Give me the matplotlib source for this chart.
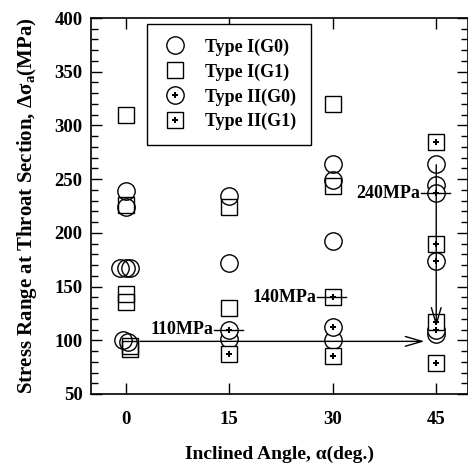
import numpy as np
import matplotlib
matplotlib.use("Agg")
import matplotlib.pyplot as plt
from matplotlib.legend_handler import HandlerTuple

plt.rcParams['font.family'] = ['Liberation Serif', 'DejaVu Serif']
plt.rcParams['font.weight'] = 'bold'
plt.rcParams['mathtext.fontset'] = 'custom'
plt.rcParams['mathtext.rm'] = 'Liberation Serif:bold'
plt.rcParams['mathtext.it'] = 'Liberation Serif:bold'

# Type I(G0): open circles
t1g0_x = [0, 0, -0.8, 0, 0.7, -0.3, 0.3, 15, 15, 15, 30, 30, 30, 30, 45, 45, 45]
t1g0_y = [239, 224, 167, 167, 167, 100, 98, 234, 172, 101, 264, 249, 192, 100, 264, 245, 106]

# Type I(G1): open squares
t1g1_x = [0, 0, 0, 0, 0.6, 0.6, 15, 15, 30, 30]
t1g1_y = [310, 226, 143, 136, 95, 92, 224, 130, 320, 244]

# Type II(G0): circle with dot
t2g0_x = [15, 30, 45, 45, 45]
t2g0_y = [110, 112, 237, 174, 110]

# Type II(G1): square with plus
t2g1_x = [15, 30, 30, 45, 45, 45, 45]
t2g1_y = [87, 140, 85, 285, 190, 117, 79]

# level marks
lev_x = [15, 30, 45]
lev_y = [110, 140, 237]
lev_txt = ['110MPa', '140MPa', '240MPa']

xticks = [0, 15, 30, 45]

fig = plt.figure(figsize=(4.68, 4.67), dpi=100)
ax = fig.add_axes([91/468, 1-394/467, 377/468, 376/467])

ms_c = 12.5
ms_s = 11
lw = 1.0

ax.plot(t1g0_x, t1g0_y, 'o', ms=ms_c, mfc='none', mec='k', mew=lw, ls='none')
ax.plot(t1g1_x, t1g1_y, 's', ms=ms_s, mfc='none', mec='k', mew=lw, ls='none')
ax.plot(t2g0_x, t2g0_y, 'o', ms=ms_c, mfc='white', mec='k', mew=lw, ls='none', zorder=3)
ax.plot(t2g0_x, t2g0_y, 'P', ms=5, mfc='k', mec='k', mew=0, ls='none', zorder=4)
ax.plot(t2g1_x, t2g1_y, 's', ms=ms_s, mfc='white', mec='k', mew=lw, ls='none', zorder=3)
ax.plot(t2g1_x, t2g1_y, 'P', ms=5, mfc='k', mec='k', mew=0, ls='none', zorder=4)

# level marks with labels
for x, y, t in zip(lev_x, lev_y, lev_txt):
    ax.plot([x - 2.2, x + 2.0], [y, y], color='k', lw=1.0, zorder=5)
    ax.text(x - 2.3, y, t, ha='right', va='center', fontsize=13, fontweight='bold')

# arrows
ax.annotate('', xy=(43.7, 99), xytext=(1.7, 99),
            arrowprops=dict(arrowstyle='->,head_length=1.2,head_width=0.35', color='k', lw=1.0))
ax.annotate('', xy=(45, 110), xytext=(45, 266),
            arrowprops=dict(arrowstyle='->,head_length=1.2,head_width=0.35', color='k', lw=1.0))

ax.set_xlim(-5, 49.6)
ax.set_ylim(50, 400)
ax.set_xticks(xticks)
ax.set_yticks(np.arange(50, 401, 50))
ax.set_yticks(np.arange(50, 401, 10), minor=True)
ax.tick_params(axis='both', which='both', direction='in', top=True, right=True, labelsize=13.5)
ax.tick_params(axis='y', which='major', length=8, width=1, pad=6)
ax.tick_params(axis='y', which='minor', length=5, width=1)
ax.tick_params(axis='x', which='major', length=8, width=1, pad=12)
for lab in ax.get_xticklabels() + ax.get_yticklabels():
    lab.set_fontweight('bold')
for s in ax.spines.values():
    s.set_linewidth(1.2)

ax.set_xlabel(r'Inclined Angle, α(deg.)', fontsize=14, fontweight='bold', labelpad=13)
ax.set_ylabel(r'Stress Range at Throat Section, Δσ$_\mathrm{a}$(MPa)', fontsize=15, fontweight='bold', labelpad=11)

# legend
h1, = ax.plot([], [], 'o', ms=ms_c, mfc='none', mec='k', mew=lw)
h2, = ax.plot([], [], 's', ms=ms_s, mfc='none', mec='k', mew=lw)
h3a, = ax.plot([], [], 'o', ms=ms_c, mfc='white', mec='k', mew=lw)
h3b, = ax.plot([], [], 'P', ms=5, mfc='k', mec='k', mew=0)
h4a, = ax.plot([], [], 's', ms=ms_s, mfc='white', mec='k', mew=lw)
h4b, = ax.plot([], [], 'P', ms=5, mfc='k', mec='k', mew=0)
leg = ax.legend([h1, h2, (h3a, h3b), (h4a, h4b)],
                ['Type I(G0)', 'Type I(G1)', 'Type II(G0)', 'Type II(G1)'],
                handler_map={tuple: HandlerTuple(ndivide=1, pad=0)},
                loc='upper left', bbox_to_anchor=(0.149, 0.984), fontsize=13,
                frameon=True, fancybox=False, edgecolor='k', framealpha=1,
                borderpad=0.8, labelspacing=0.42, handlelength=1.5, handletextpad=0.9,
                borderaxespad=0)
leg.get_frame().set_linewidth(1.0)
for t in leg.get_texts():
    t.set_fontweight('bold')

fig.savefig('out.png', dpi=100)
